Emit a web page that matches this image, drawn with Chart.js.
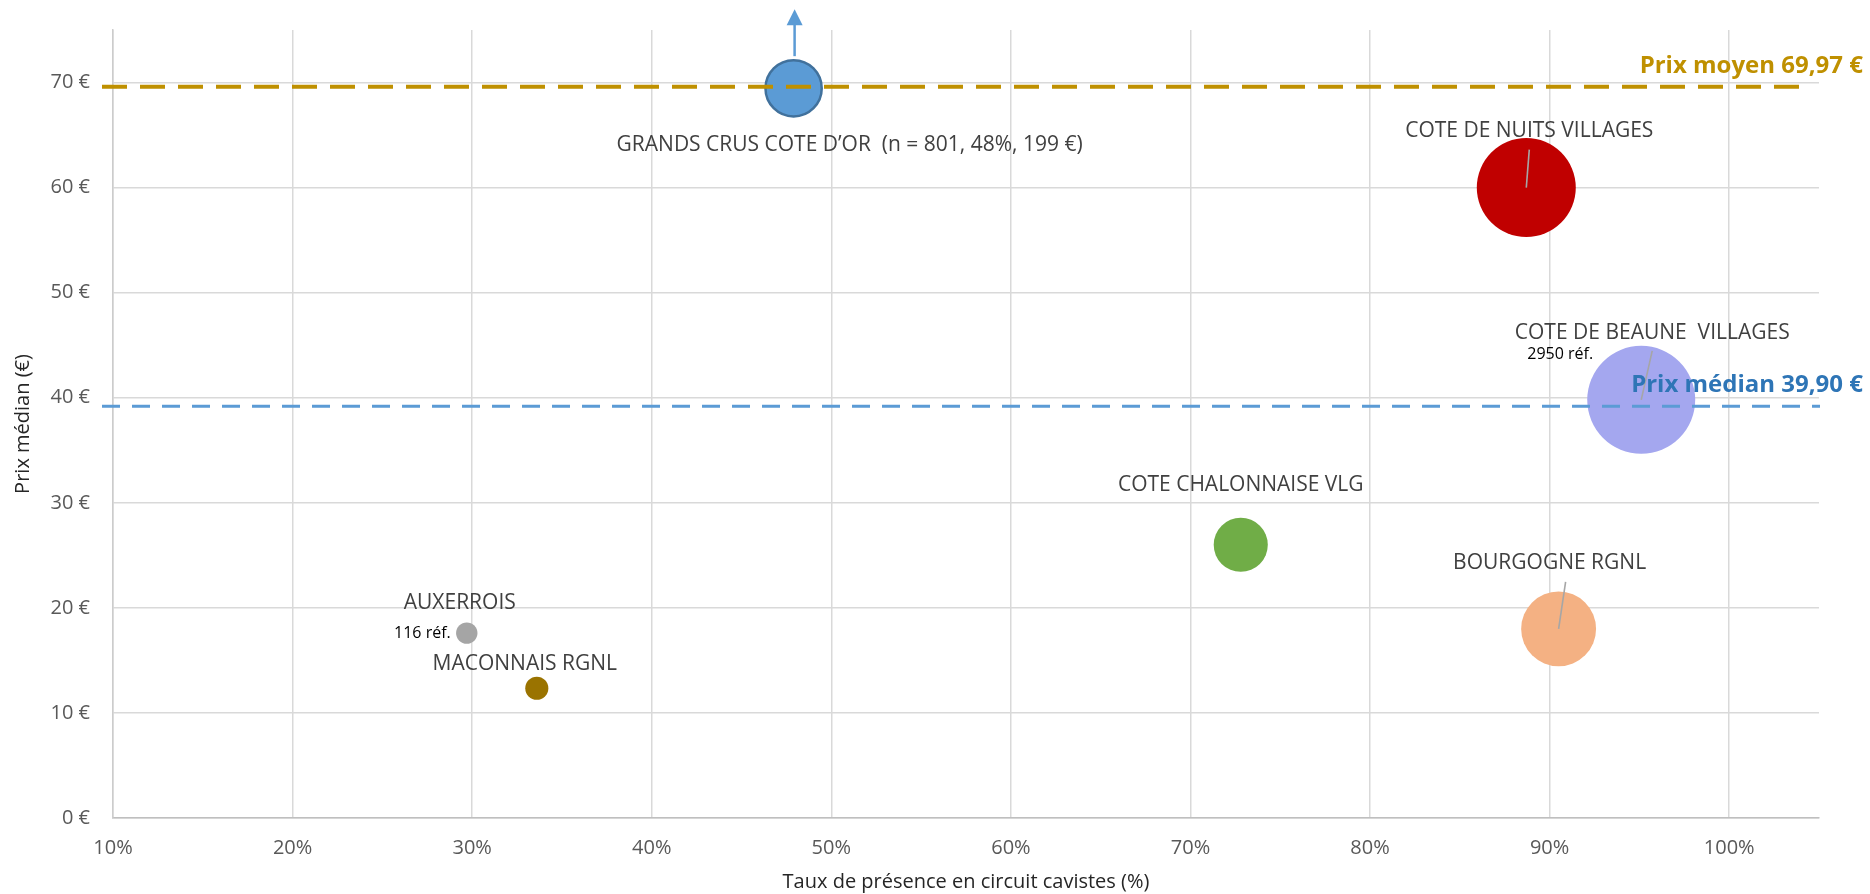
<!DOCTYPE html>
<html>
<head>
<meta charset="utf-8">
<script src="https://cdn.jsdelivr.net/npm/chart.js@4.4.0/dist/chart.umd.min.js"></script>
<style>
  html, body { margin: 0; padding: 0; background: #fff; }
  #wrap { width: 1870px; height: 894px; position: relative; }
</style>
</head>
<body>
<div id="wrap"><canvas id="bubbleChart"></canvas></div>
<script>
// data
const appellations = [
  'GRANDS CRUS COTE D\u2019OR  (n = 801, 48%, 199 \u20ac)',
  'COTE DE NUITS VILLAGES',
  'COTE DE BEAUNE  VILLAGES',
  'COTE CHALONNAISE VLG',
  'BOURGOGNE RGNL',
  'AUXERROIS',
  'MACONNAIS RGNL',
];
const presence   = [47.9, 88.7, 95.1, 72.8, 90.5, 29.7, 33.6];   // %
const prixMedian = [69.45, 60.0, 39.8, 26.0, 18.0, 17.6, 12.35]; // € (grands crus capped, real 199 €)
const references = [801, 2480, 2950, 740, 1420, 116, 135];       // bubble size = nb réf.
const refNotes   = ['', '', '2950 réf.', '', '', '116 réf.', ''];

const xTicks = [10, 20, 30, 40, 50, 60, 70, 80, 90, 100];
const yTicks = [0, 10, 20, 30, 40, 50, 60, 70];

const refLineValues = [69.6, 39.2];
const refLineLabels = ['Prix moyen 69,97 \u20ac', 'Prix m\u00e9dian 39,90 \u20ac'];

// styles
const FONT = "'Open Sans', sans-serif";
const BUBBLE_COLORS = ['#5B9BD5', '#C00000', '#A4A7EF', '#70AD47', '#F4B183', '#A5A5A5', '#9A7300'];
const BUBBLE_BORDERS = ['#41719C', '#C00000', '#A4A7EF', '#70AD47', '#F4B183', '#A5A5A5', '#9A7300'];
const BUBBLE_BORDER_W = [2.5, 0, 0, 0, 0, 0, 0];
const REF_LINE_COLORS = ['#BF9000', '#5B9BD5'];
const REF_TEXT_COLORS = ['#BF9000', '#2E75B6'];
const REF_LINE_STYLE = [{ w: 4, dash: [25, 13] }, { w: 3, dash: [18, 12] }];

// label placement relative to bubble centre (px) and leader lines
const LABEL_OFFSETS = [[56, 57], [3, -57], [11, -67], [0, -60], [-9, -66], [-7, -30], [-12, -24]];
const NOTE_OFFSETS  = [null, null, [-81, -45], null, null, [-16, 0], null];
const LEADERS       = [null, [3, -38], [11, -49], null, [7, -47], null, null];

const sizeScale = 0.994;

const annotations = {
  id: 'annotations',
  afterDatasetsDraw(chart) {
    const { ctx, chartArea: a, scales: { y } } = chart;
    const pts = chart.getDatasetMeta(0).data;
    ctx.save();

    // arrow above the capped grands crus bubble
    const g = pts[0];
    const gr = chart.data.datasets[0].data[0].r;
    ctx.strokeStyle = '#5B9BD5';
    ctx.fillStyle = '#5B9BD5';
    ctx.lineWidth = 2.5;
    ctx.beginPath();
    ctx.moveTo(g.x + 1, g.y - gr - 4);
    ctx.lineTo(g.x + 1, g.y - gr - 46);
    ctx.stroke();
    ctx.beginPath();
    ctx.moveTo(g.x + 1, g.y - 79);
    ctx.lineTo(g.x - 7, g.y - 63);
    ctx.lineTo(g.x + 9, g.y - 63);
    ctx.closePath();
    ctx.fill();

    // leader lines
    ctx.strokeStyle = '#A6A6A6';
    ctx.lineWidth = 1.6;
    LEADERS.forEach((l, i) => {
      if (!l) return;
      const p = pts[i];
      ctx.beginPath();
      ctx.moveTo(p.x + l[0], p.y + l[1]);
      ctx.lineTo(p.x, p.y);
      ctx.stroke();
    });

    // reference lines
    refLineValues.forEach((v, i) => {
      const py = y.getPixelForValue(v);
      ctx.strokeStyle = REF_LINE_COLORS[i];
      ctx.lineWidth = REF_LINE_STYLE[i].w;
      ctx.setLineDash(REF_LINE_STYLE[i].dash);
      ctx.beginPath();
      ctx.moveTo(a.left - 11, py);
      ctx.lineTo(i === 0 ? a.right - 16 : a.right + 1, py);
      ctx.stroke();
    });
    ctx.setLineDash([]);

    // bubble labels
    ctx.textAlign = 'center';
    ctx.textBaseline = 'middle';
    ctx.font = `21px ${FONT}`;
    ctx.fillStyle = '#404040';
    appellations.forEach((t, i) => {
      const p = pts[i];
      ctx.fillText(t, p.x + LABEL_OFFSETS[i][0], p.y + LABEL_OFFSETS[i][1]);
    });

    ctx.font = `16px ${FONT}`;
    ctx.fillStyle = '#000000';
    refNotes.forEach((t, i) => {
      if (!t) return;
      const p = pts[i];
      const o = NOTE_OFFSETS[i];
      ctx.textAlign = i === 5 ? 'right' : 'center';
      ctx.fillText(t, p.x + o[0], p.y + o[1]);
    });

    // reference line labels
    ctx.textAlign = 'right';
    ctx.font = `bold 24px ${FONT}`;
    refLineValues.forEach((v, i) => {
      ctx.fillStyle = REF_TEXT_COLORS[i];
      ctx.fillText(refLineLabels[i], chart.width - 7, y.getPixelForValue(v) - 21);
    });

    ctx.restore();
  }
};

new Chart(document.getElementById('bubbleChart'), {
  type: 'bubble',
  data: {
    datasets: [{
      data: presence.map((x, i) => ({ x, y: prixMedian[i], r: Math.sqrt(references[i]) * sizeScale })),
      backgroundColor: BUBBLE_COLORS,
      borderColor: BUBBLE_BORDERS,
      borderWidth: BUBBLE_BORDER_W,
      hoverRadius: 0,
      clip: false,
    }]
  },
  options: {
    responsive: true, maintainAspectRatio: false,
    animation: false,
    events: [],
    layout: { autoPadding: false, padding: { top: 30, right: 51, left: 0, bottom: 0 } },
    plugins: { legend: { display: false }, tooltip: { enabled: false } },
    scales: {
      x: {
        type: 'linear', min: 10, max: 105,
        afterBuildTicks: s => { s.ticks = xTicks.map(v => ({ value: v })); },
        afterFit: s => { s.height = 76; s.paddingLeft = 0; s.paddingRight = 0; },
        grid: { color: '#D9D9D9', lineWidth: 1.5, drawTicks: false },
        border: { color: '#BFBFBF', width: 1.5 },
        ticks: { color: '#595959', padding: 18, font: { family: FONT, size: 20 }, callback: v => v + '%' },
        title: { display: true, text: 'Taux de pr\u00e9sence en circuit cavistes (%)', color: '#262626', padding: { top: 0, bottom: 0 }, font: { family: FONT, size: 20 } },
      },
      y: {
        type: 'linear', min: 0, max: 75,
        afterBuildTicks: s => { s.ticks = yTicks.map(v => ({ value: v })); },
        afterFit: s => { s.width = 113; s.paddingTop = 0; s.paddingBottom = 0; },
        grid: { color: '#D9D9D9', lineWidth: 1.5, drawTicks: false },
        border: { color: '#CCCCCC', width: 1.5 },
        ticks: { color: '#595959', padding: 23, font: { family: FONT, size: 20 }, callback: v => v + ' \u20ac' },
        title: { display: true, text: 'Prix m\u00e9dian (\u20ac)', color: '#262626', padding: { top: 11, bottom: 0 }, font: { family: FONT, size: 20 } },
      }
    }
  },
  plugins: [annotations]
});
</script>
</body>
</html>
